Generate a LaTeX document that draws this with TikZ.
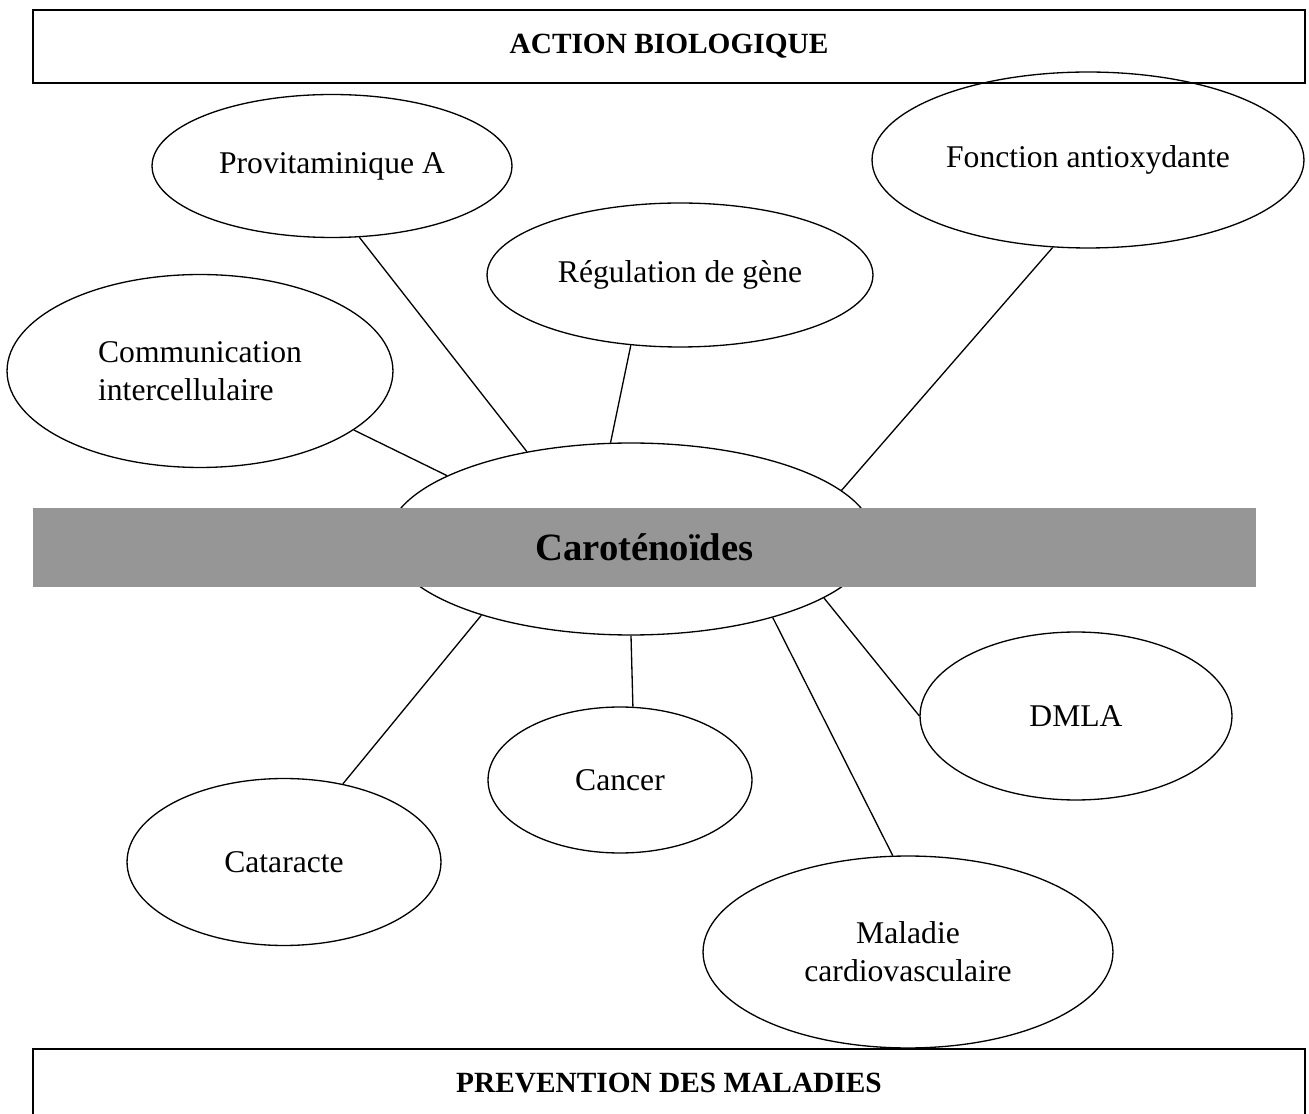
\documentclass[tikz,border=0pt]{standalone}
\usepackage{fontspec}
\setmainfont{Liberation Serif}
\usetikzlibrary{shapes.geometric}
\definecolor{bargray}{RGB}{150,150,150}
\begin{document}
\begin{tikzpicture}[x=0.02cm, y=-0.02cm,
    bubble/.style={draw, ellipse, fill=white, line width=0.75pt, inner sep=0pt, align=center, font=\fontsize{18}{21.6}\selectfont},
    titlebox/.style={draw, rectangle, line width=1pt, inner sep=0pt, minimum width=25.44cm, font=\bfseries\fontsize{16.7}{20}\selectfont},
    link/.style={line width=0.75pt}]
    \useasboundingbox (0,0) rectangle (1309,1114);

    \node[bubble, minimum width=7.2cm, minimum height=2.86cm] (provit) at (332,166) {Provitaminique A};
    \node[bubble, minimum width=8.64cm, minimum height=3.52cm] (antiox) at (1088,160) {Fonction antioxydante};
    \node[bubble, minimum width=7.72cm, minimum height=2.88cm] (regul) at (680,275) {Régulation de gène};
    \node[bubble, minimum width=7.72cm, minimum height=3.86cm, align=left] (commu) at (200,371) {Communication\\intercellulaire};
    \node[bubble, minimum width=9.72cm, minimum height=3.84cm] (carot) at (631,539) {};
    \node[bubble, minimum width=6.24cm, minimum height=3.36cm] (dmla) at (1076,716) {DMLA};
    \node[bubble, minimum width=5.28cm, minimum height=2.92cm] (cancer) at (620,780) {Cancer};
    \node[bubble, minimum width=6.28cm, minimum height=3.34cm] (catar) at (284,862) {Cataracte};
    \node[bubble, minimum width=8.2cm, minimum height=3.84cm] (cardio) at (908,952) {Maladie\\cardiovasculaire};

    \node[titlebox, minimum height=1.46cm] (action) at (669,46.5) {ACTION BIOLOGIQUE};
    \node[titlebox, minimum height=1.36cm] (prevention) at (669,1083) {PREVENTION DES MALADIES};

    \draw[link] (provit.291) -- (carot.140);
    \draw[link] (commu.339) -- (carot.161.4);
    \draw[link] (regul.235.6) -- (carot.102.3);
    \draw[link] (antiox.248.3) -- (carot.13.5);
    \draw[link] (carot.207.5) -- (catar.53.7);
    \draw[link] (carot.270) -- (cancer.80.6);
    \draw[link] (carot.331.2) -- (cardio.99.5);
    \draw[link] (carot.343.3) -- (dmla.180);

    \node[fill=bargray, inner sep=0pt, minimum width=24.46cm, minimum height=1.58cm, font=\bfseries\fontsize{22}{26}\selectfont] (bar) at (644.5,547.5) {Caroténoïdes};
\end{tikzpicture}
\end{document}
